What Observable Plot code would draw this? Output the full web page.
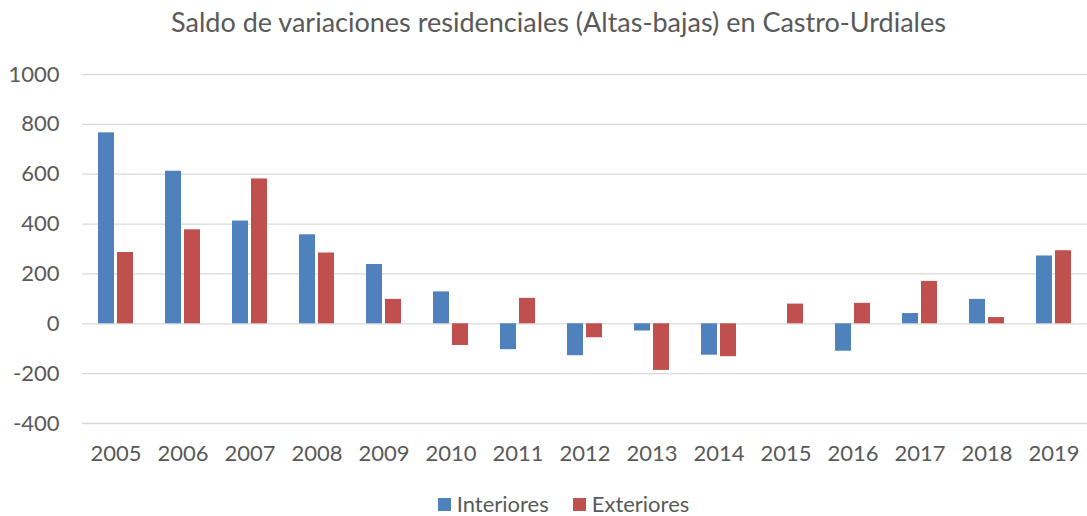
<!DOCTYPE html>
<html>
<head>
<meta charset="utf-8">
<script src="https://cdn.jsdelivr.net/npm/d3@7"></script>
<script src="https://cdn.jsdelivr.net/npm/@observablehq/plot@0.6"></script>
<style>
  html, body { margin: 0; padding: 0; background: #fff; }
  body { width: 1087px; height: 516px; overflow: hidden; font-family: Lato, "Open Sans", sans-serif; color: #595959; }
  #title { height: 45px; line-height: 44px; font-size: 27px; text-align: center; padding-left: 30px; box-sizing: border-box; width: 1087px; }
  #legend { height: 31px; display: flex; justify-content: center; align-items: center; font-size: 22px; line-height: 20px; padding-left: 40px; box-sizing: border-box; width: 1087px; padding-top: 8px; padding-bottom: 1px; }
  .item { display: flex; align-items: center; margin: 0 12px; }
  .sw { width: 13px; height: 13px; margin-right: 6px; }
</style>
</head>
<body>
<div id="title">Saldo de variaciones residenciales (Altas-bajas) en Castro-Urdiales</div>
<div id="chart"></div>
<div id="legend"></div>
<script>
const years = ["2005","2006","2007","2008","2009","2010","2011","2012","2013","2014","2015","2016","2017","2018","2019"];
const series = ["Interiores", "Exteriores"];
const colors = ["#4F81BD", "#C0504D"];
const interiores = [766, 612, 412, 357, 238, 128, -104, -128, -29, -126, 0, -110, 41, 98, 272];
const exteriores = [286, 377, 581, 284, 98, -87, 102, -56, -187, -132, 79, 82, 170, 25, 293];
const yTicks = [-400, -200, 0, 200, 400, 600, 800, 1000];

const data = [];
years.forEach((y, i) => {
  data.push({year: y, serie: series[0], value: interiores[i]});
  data.push({year: y, serie: series[1], value: exteriores[i]});
});

const chart = Plot.plot({
  width: 1087,
  height: 440,
  marginLeft: 81,
  marginRight: 0,
  marginTop: 29,
  marginBottom: 62,
  style: {fontFamily: "Lato, 'Open Sans', sans-serif", fontSize: "22px", color: "#595959", background: "#fff"},
  fx: {domain: years, paddingInner: 0, paddingOuter: 0, label: null, axis: "bottom", tickSize: 0, tickPadding: 22},
  x: {domain: series, paddingInner: 0.16, paddingOuter: 0.84, axis: null},
  y: {domain: [-400, 1000], ticks: yTicks, tickSize: 0, tickPadding: 23, label: null, tickFormat: d => String(d)},
  color: {domain: series, range: colors},
  marks: [
    Plot.ruleY(yTicks, {stroke: "#d9d9d9", strokeWidth: 1.3}),
    Plot.barY(data, {fx: "year", x: "serie", y: "value", fill: "serie"})
  ]
});
document.getElementById("chart").appendChild(chart);

const legend = document.getElementById("legend");
series.forEach((s, i) => {
  const item = document.createElement("div");
  item.className = "item";
  const sw = document.createElement("div");
  sw.className = "sw";
  sw.style.background = colors[i];
  const t = document.createElement("span");
  t.textContent = s;
  item.appendChild(sw);
  item.appendChild(t);
  legend.appendChild(item);
});
</script>
</body>
</html>
